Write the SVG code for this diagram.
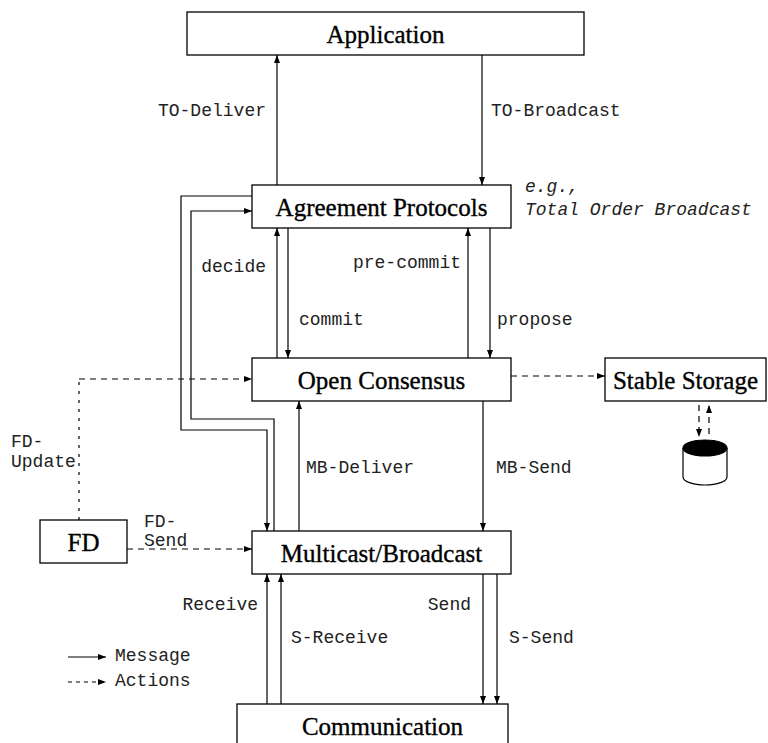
<svg xmlns="http://www.w3.org/2000/svg" width="768" height="743" viewBox="0 0 768 743">
<defs>
<marker id="ah" markerWidth="8" markerHeight="6" refX="8" refY="3" orient="auto" markerUnits="userSpaceOnUse">
<path d="M0,0 L8,3 L0,6 z" fill="#000"/>
</marker>
<style>
.box{fill:#fff;stroke:#000;stroke-width:1.3}
.lbl{font-family:"Liberation Serif","Times New Roman",serif;font-size:25px;fill:#000;stroke:#000;stroke-width:0.35;text-anchor:middle}
.t{font-family:"Liberation Mono","Courier New",monospace;font-size:18px;fill:#222}
.ti{font-family:"Liberation Mono","Courier New",monospace;font-size:18px;font-style:italic;fill:#222}
.c{fill:none;stroke:#000;stroke-width:1.2}
.m{marker-end:url(#ah)}
.d{stroke-dasharray:6,5}
.dv{stroke-dasharray:3,6}
.ds{stroke-dasharray:4,4}
</style>
</defs>
<rect width="768" height="743" fill="#fff"/>

<g id="connectors">
<line class="c m" x1="277" y1="185" x2="277" y2="55"/>
<line class="c m" x1="482" y1="55" x2="482" y2="185"/>
<line class="c m" x1="277" y1="358" x2="277" y2="228"/>
<line class="c m" x1="288" y1="228" x2="288" y2="358"/>
<line class="c m" x1="468" y1="358" x2="468" y2="228"/>
<line class="c m" x1="490" y1="228" x2="490" y2="358"/>
<line class="c m" x1="299" y1="531" x2="299" y2="401"/>
<line class="c m" x1="483" y1="401" x2="483" y2="531"/>
<polyline class="c m" points="252,196 181,196 181,430 267,430 267,531"/>
<polyline class="c m" points="274,531 274,419 191,419 191,211 252,211"/>
<line class="c m" x1="267" y1="704" x2="267" y2="574"/>
<line class="c m" x1="281" y1="704" x2="281" y2="574"/>
<line class="c m" x1="483" y1="574" x2="483" y2="704"/>
<line class="c m" x1="497" y1="574" x2="497" y2="704"/>
<line class="c m d" x1="511" y1="376" x2="605" y2="376"/>
<line class="c dv" x1="79" y1="520" x2="79" y2="379"/>
<line class="c m d" x1="79" y1="379" x2="252" y2="379"/>
<line class="c m d" x1="127" y1="549" x2="252" y2="549"/>
<line class="c m d" x1="699" y1="405" x2="699" y2="437"/>
<line class="c m d" x1="709" y1="434" x2="709" y2="405"/>
</g>

<g id="app"><rect class="box" x="187" y="12" width="397" height="43"/><text class="lbl" x="385.5" y="43">Application</text></g>
<g id="agreement"><rect class="box" x="252" y="185" width="259" height="43"/><text class="lbl" x="381.5" y="216">Agreement Protocols</text></g>
<g id="consensus"><rect class="box" x="252" y="358" width="259" height="43"/><text class="lbl" x="381.5" y="389">Open Consensus</text></g>
<g id="storage"><rect class="box" x="605" y="358" width="161" height="43"/><text class="lbl" x="685.5" y="389">Stable Storage</text></g>
<g id="multicast"><rect class="box" x="252" y="531" width="259" height="43"/><text class="lbl" x="381.5" y="562">Multicast/Broadcast</text></g>
<g id="fd"><rect class="box" x="40" y="520" width="87" height="43"/><text class="lbl" x="83.5" y="551">FD</text></g>
<g id="comm"><rect class="box" x="237" y="704" width="271" height="45"/><text class="lbl" x="382.5" y="735">Communication</text></g>
<g id="disk">
<path d="M683,448 L683,477 A22,8 0 0 0 727,477 L727,448" fill="#fff" stroke="#000" stroke-width="1.2"/>
<ellipse cx="705" cy="448" rx="22" ry="8" fill="#000" stroke="#000" stroke-width="1.2"/>
</g>

<g id="labels">
<text class="t" x="266" y="116" text-anchor="end">TO-Deliver</text>
<text class="t" x="491" y="116">TO-Broadcast</text>
<text class="ti" x="525" y="192">e.g.,</text>
<text class="ti" x="525" y="215">Total Order Broadcast</text>
<text class="t" x="266" y="272" text-anchor="end">decide</text>
<text class="t" x="461" y="268" text-anchor="end">pre-commit</text>
<text class="t" x="299" y="325">commit</text>
<text class="t" x="497" y="325">propose</text>
<text class="t" x="306" y="473">MB-Deliver</text>
<text class="t" x="496" y="473">MB-Send</text>
<text class="t" x="11" y="447">FD-</text>
<text class="t" x="11" y="467">Update</text>
<text class="t" x="144" y="527">FD-</text>
<text class="t" x="144" y="546">Send</text>
<text class="t" x="258" y="610" text-anchor="end">Receive</text>
<text class="t" x="471" y="610" text-anchor="end">Send</text>
<text class="t" x="291" y="643">S-Receive</text>
<text class="t" x="509" y="643">S-Send</text>
<text class="t" x="115" y="661">Message</text>
<text class="t" x="115" y="686">Actions</text>
</g>
<g id="legend">
<line class="c m" x1="68" y1="657" x2="106" y2="657"/>
<line class="c m ds" x1="68" y1="682" x2="106" y2="682"/>
</g>
</svg>
